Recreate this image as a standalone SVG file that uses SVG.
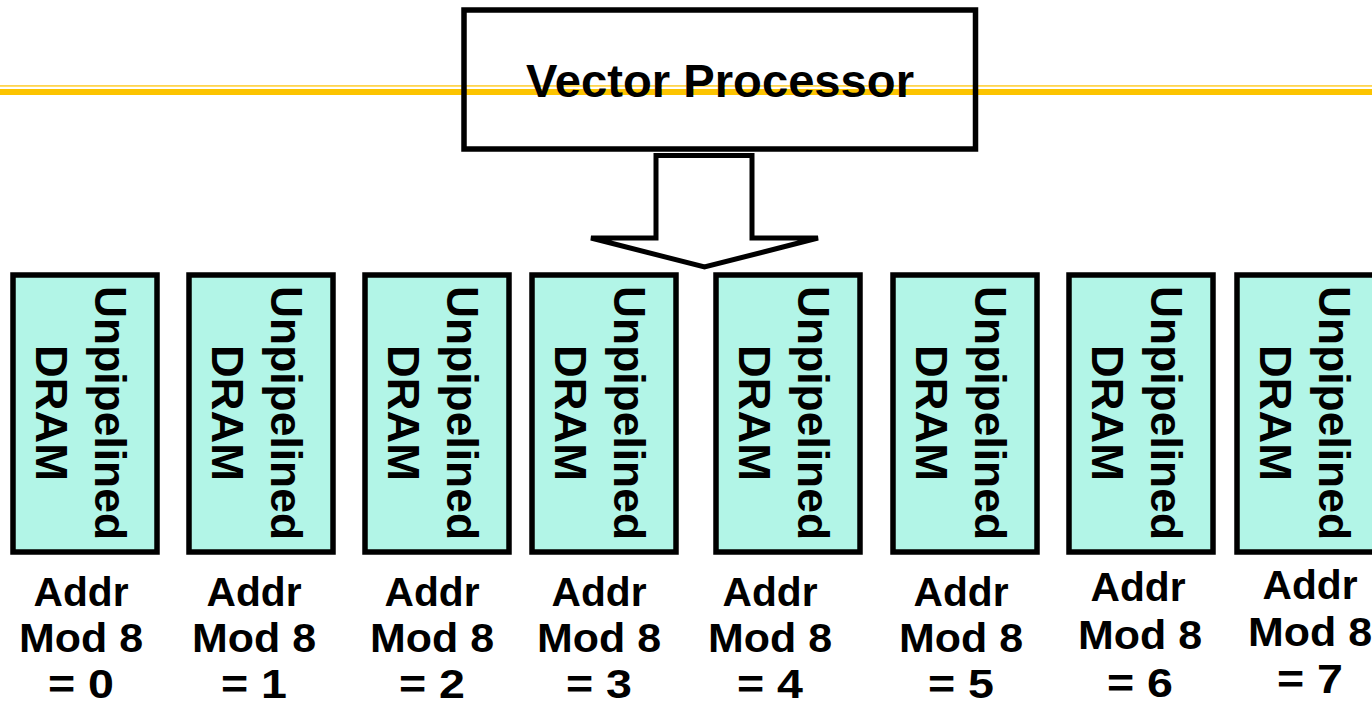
<svg xmlns="http://www.w3.org/2000/svg" width="1372" height="710" viewBox="0 0 1372 710">
  <style>
    text { font-family: "Liberation Sans", Arial, sans-serif; font-weight: bold; fill: #000; }
    .box { fill: none; stroke: #000; stroke-width: 5.5; }
    .bank { fill: #b2f5e7; stroke: #000; stroke-width: 5.5; }
    .title { font-size: 46px; }
    .vert { font-size: 44px; text-anchor: middle; }
    .lbl { font-size: 40px; text-anchor: middle; }
    .arrow { fill: #fff; stroke: #000; stroke-width: 5; stroke-linejoin: miter; }
  </style>

  <defs>
    <!-- shared bank label, rotated to read top to bottom -->
    <g id="dram-text">
      <text class="vert" transform="rotate(90)"><tspan x="0" y="-10" textLength="254" lengthAdjust="spacingAndGlyphs">Unpipelined</tspan><tspan x="0" y="49" textLength="136" lengthAdjust="spacingAndGlyphs">DRAM</tspan></text>
    </g>
  </defs>

  <rect width="1372" height="710" fill="#fff"/>

  <!-- header rule -->
  <g id="rule">
    <rect x="0" y="85" width="1372" height="1.8" fill="#ffd54f"/>
    <rect x="0" y="89" width="1372" height="6" fill="#fcc400"/>
  </g>

  <!-- processor -->
  <g id="vector-processor">
    <rect class="box" x="464" y="10" width="511.5" height="139"/>
    <text class="title" x="720" y="97" text-anchor="middle" textLength="388" lengthAdjust="spacingAndGlyphs">Vector Processor</text>
  </g>

  <!-- block arrow into the memory banks -->
  <g id="connectors">
    <path class="arrow" d="M656,155.5 L752,155.5 L752,238 L818,238 L704.5,267 L591,238 L656,238 Z"/>
  </g>

  <!-- memory banks -->
  <g id="bank0">
    <rect class="bank" x="13" y="275" width="144" height="277"/>
    <use href="#dram-text" x="85" y="413"/>
    <text class="lbl"><tspan x="81" y="606" textLength="95" lengthAdjust="spacingAndGlyphs">Addr</tspan><tspan x="81" y="652" textLength="124" lengthAdjust="spacingAndGlyphs">Mod 8</tspan><tspan x="81" y="698" textLength="66" lengthAdjust="spacingAndGlyphs">= 0</tspan></text>
  </g>
  <g id="bank1">
    <rect class="bank" x="189" y="275" width="144" height="277"/>
    <use href="#dram-text" x="261" y="413"/>
    <text class="lbl"><tspan x="254" y="606" textLength="95" lengthAdjust="spacingAndGlyphs">Addr</tspan><tspan x="254" y="652" textLength="124" lengthAdjust="spacingAndGlyphs">Mod 8</tspan><tspan x="254" y="698" textLength="66" lengthAdjust="spacingAndGlyphs">= 1</tspan></text>
  </g>
  <g id="bank2">
    <rect class="bank" x="365" y="275" width="144" height="277"/>
    <use href="#dram-text" x="437" y="413"/>
    <text class="lbl"><tspan x="432" y="606" textLength="95" lengthAdjust="spacingAndGlyphs">Addr</tspan><tspan x="432" y="652" textLength="124" lengthAdjust="spacingAndGlyphs">Mod 8</tspan><tspan x="432" y="698" textLength="66" lengthAdjust="spacingAndGlyphs">= 2</tspan></text>
  </g>
  <g id="bank3">
    <rect class="bank" x="532" y="275" width="144" height="277"/>
    <use href="#dram-text" x="604" y="413"/>
    <text class="lbl"><tspan x="599" y="606" textLength="95" lengthAdjust="spacingAndGlyphs">Addr</tspan><tspan x="599" y="652" textLength="124" lengthAdjust="spacingAndGlyphs">Mod 8</tspan><tspan x="599" y="698" textLength="66" lengthAdjust="spacingAndGlyphs">= 3</tspan></text>
  </g>
  <g id="bank4">
    <rect class="bank" x="716" y="275" width="144" height="277"/>
    <use href="#dram-text" x="788" y="413"/>
    <text class="lbl"><tspan x="770" y="606" textLength="95" lengthAdjust="spacingAndGlyphs">Addr</tspan><tspan x="770" y="652" textLength="124" lengthAdjust="spacingAndGlyphs">Mod 8</tspan><tspan x="770" y="698" textLength="66" lengthAdjust="spacingAndGlyphs">= 4</tspan></text>
  </g>
  <g id="bank5">
    <rect class="bank" x="893" y="275" width="144" height="277"/>
    <use href="#dram-text" x="965" y="413"/>
    <text class="lbl"><tspan x="961" y="606" textLength="95" lengthAdjust="spacingAndGlyphs">Addr</tspan><tspan x="961" y="652" textLength="124" lengthAdjust="spacingAndGlyphs">Mod 8</tspan><tspan x="961" y="698" textLength="66" lengthAdjust="spacingAndGlyphs">= 5</tspan></text>
  </g>
  <g id="bank6">
    <rect class="bank" x="1069" y="275" width="144" height="277"/>
    <use href="#dram-text" x="1141" y="413"/>
    <text class="lbl"><tspan x="1138" y="601" textLength="95" lengthAdjust="spacingAndGlyphs">Addr</tspan><tspan x="1140" y="649" textLength="124" lengthAdjust="spacingAndGlyphs">Mod 8</tspan><tspan x="1140" y="697" textLength="66" lengthAdjust="spacingAndGlyphs">= 6</tspan></text>
  </g>
  <g id="bank7">
    <rect class="bank" x="1237" y="275" width="144" height="277"/>
    <use href="#dram-text" x="1309" y="413"/>
    <text class="lbl"><tspan x="1310" y="599" textLength="95" lengthAdjust="spacingAndGlyphs">Addr</tspan><tspan x="1310" y="646" textLength="124" lengthAdjust="spacingAndGlyphs">Mod 8</tspan><tspan x="1310" y="693" textLength="66" lengthAdjust="spacingAndGlyphs">= 7</tspan></text>
  </g>
</svg>
